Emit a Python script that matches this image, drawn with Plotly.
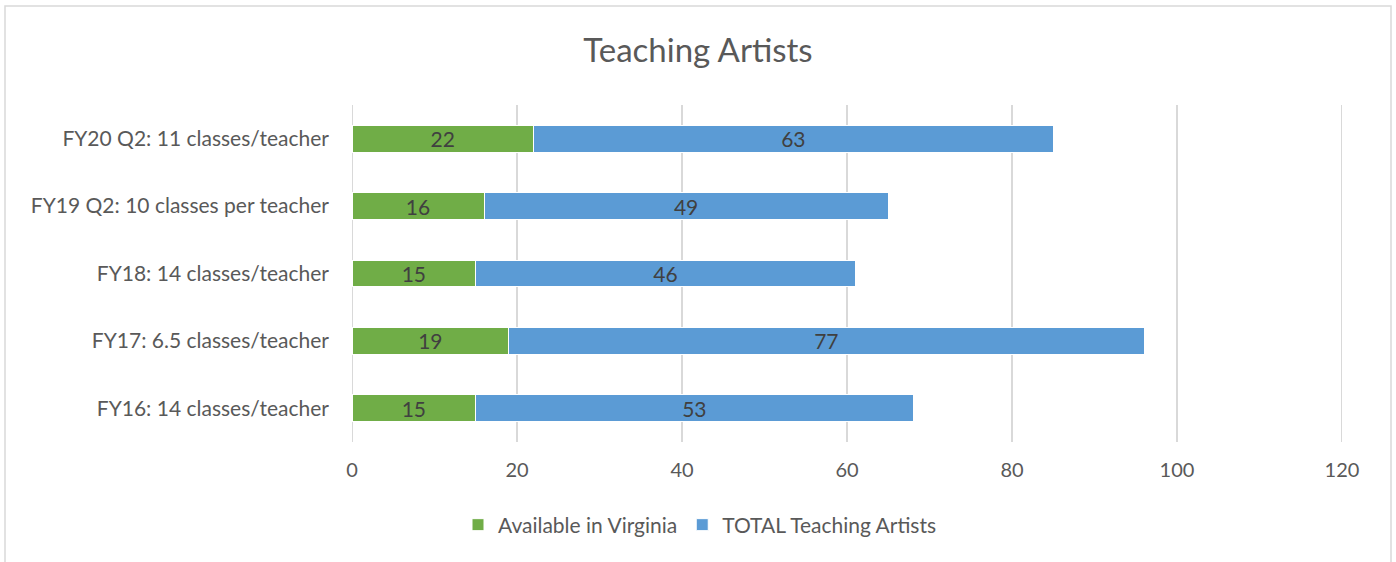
import plotly.graph_objects as go

categories = ["FY16: 14 classes/teacher", "FY17: 6.5 classes/teacher", "FY18: 14 classes/teacher",
              "FY19 Q2: 10 classes per teacher", "FY20 Q2: 11 classes/teacher"]
available_va = [15, 19, 15, 16, 22]
total_ta = [53, 77, 46, 49, 63]
x_ticks = [0, 20, 40, 60, 80, 100, 120]

FONT = "Lato, 'Open Sans', sans-serif"
L, R, T, B = 352, 54, 105, 120
PW, PH = 1396 - L - R, 562 - T - B

fig = go.Figure()
for vals, name, color in [(available_va, "Available in Virginia", "#70AD47"),
                          (total_ta, "TOTAL Teaching Artists", "#5B9BD5")]:
    fig.add_trace(go.Bar(
        y=categories, x=vals, orientation="h", name=name,
        marker=dict(color=color, line=dict(color="white", width=1)),
        text=vals, textposition="inside", insidetextanchor="middle", textangle=0,
        constraintext="none", cliponaxis=False,
        textfont=dict(color="#404040", size=21, family=FONT), width=0.4,
    ))

edge_lines = [dict(type="line", xref="x", yref="paper", x0=v, x1=v, y0=0, y1=1,
                   line=dict(color="#D9D9D9", width=2), layer="below")
              for v in (x_ticks[0], x_ticks[-1])]

fig.update_layout(
    barmode="stack",
    width=1396, height=562,
    margin=dict(l=L, r=R, t=T, b=B),
    paper_bgcolor="white", plot_bgcolor="white",
    font=dict(family=FONT, color="#595959", size=20),
    title=dict(text="Teaching Artists", x=0.5, xref="container", y=1 - 50/562, yref="container",
               yanchor="middle", xanchor="center", font=dict(size=33, color="#595959", family=FONT)),
    showlegend=True,
    legend=dict(orientation="h", x=(700 - L)/PW, xanchor="center", y=-(525 - (T + PH))/PH,
                yanchor="middle", font=dict(size=21, color="#595959", family=FONT),
                traceorder="normal", itemwidth=30),
    xaxis=dict(range=[0, 120], tickvals=x_ticks, showgrid=True, gridcolor="#D9D9D9", gridwidth=2,
               zeroline=False, showline=False, ticks="", ticklabelstandoff=14,
               tickfont=dict(size=20, color="#595959")),
    yaxis=dict(showgrid=False, zeroline=False, showline=False, ticks="", ticklabelstandoff=22,
               tickfont=dict(size=21, color="#595959")),
    shapes=[
        dict(type="rect", xref="paper", yref="paper", x0=(5 - L)/PW, x1=(1391 - L)/PW,
             y0=-(575 - (T + PH))/PH, y1=1 + (T - 6)/PH, line=dict(color="#D9D9D9", width=1.5),
             fillcolor="rgba(0,0,0,0)", layer="below"),
    ] + edge_lines,
)

fig.write_html("out.html", config={"displayModeBar": False},
               post_script="document.body.style.margin='0';")
